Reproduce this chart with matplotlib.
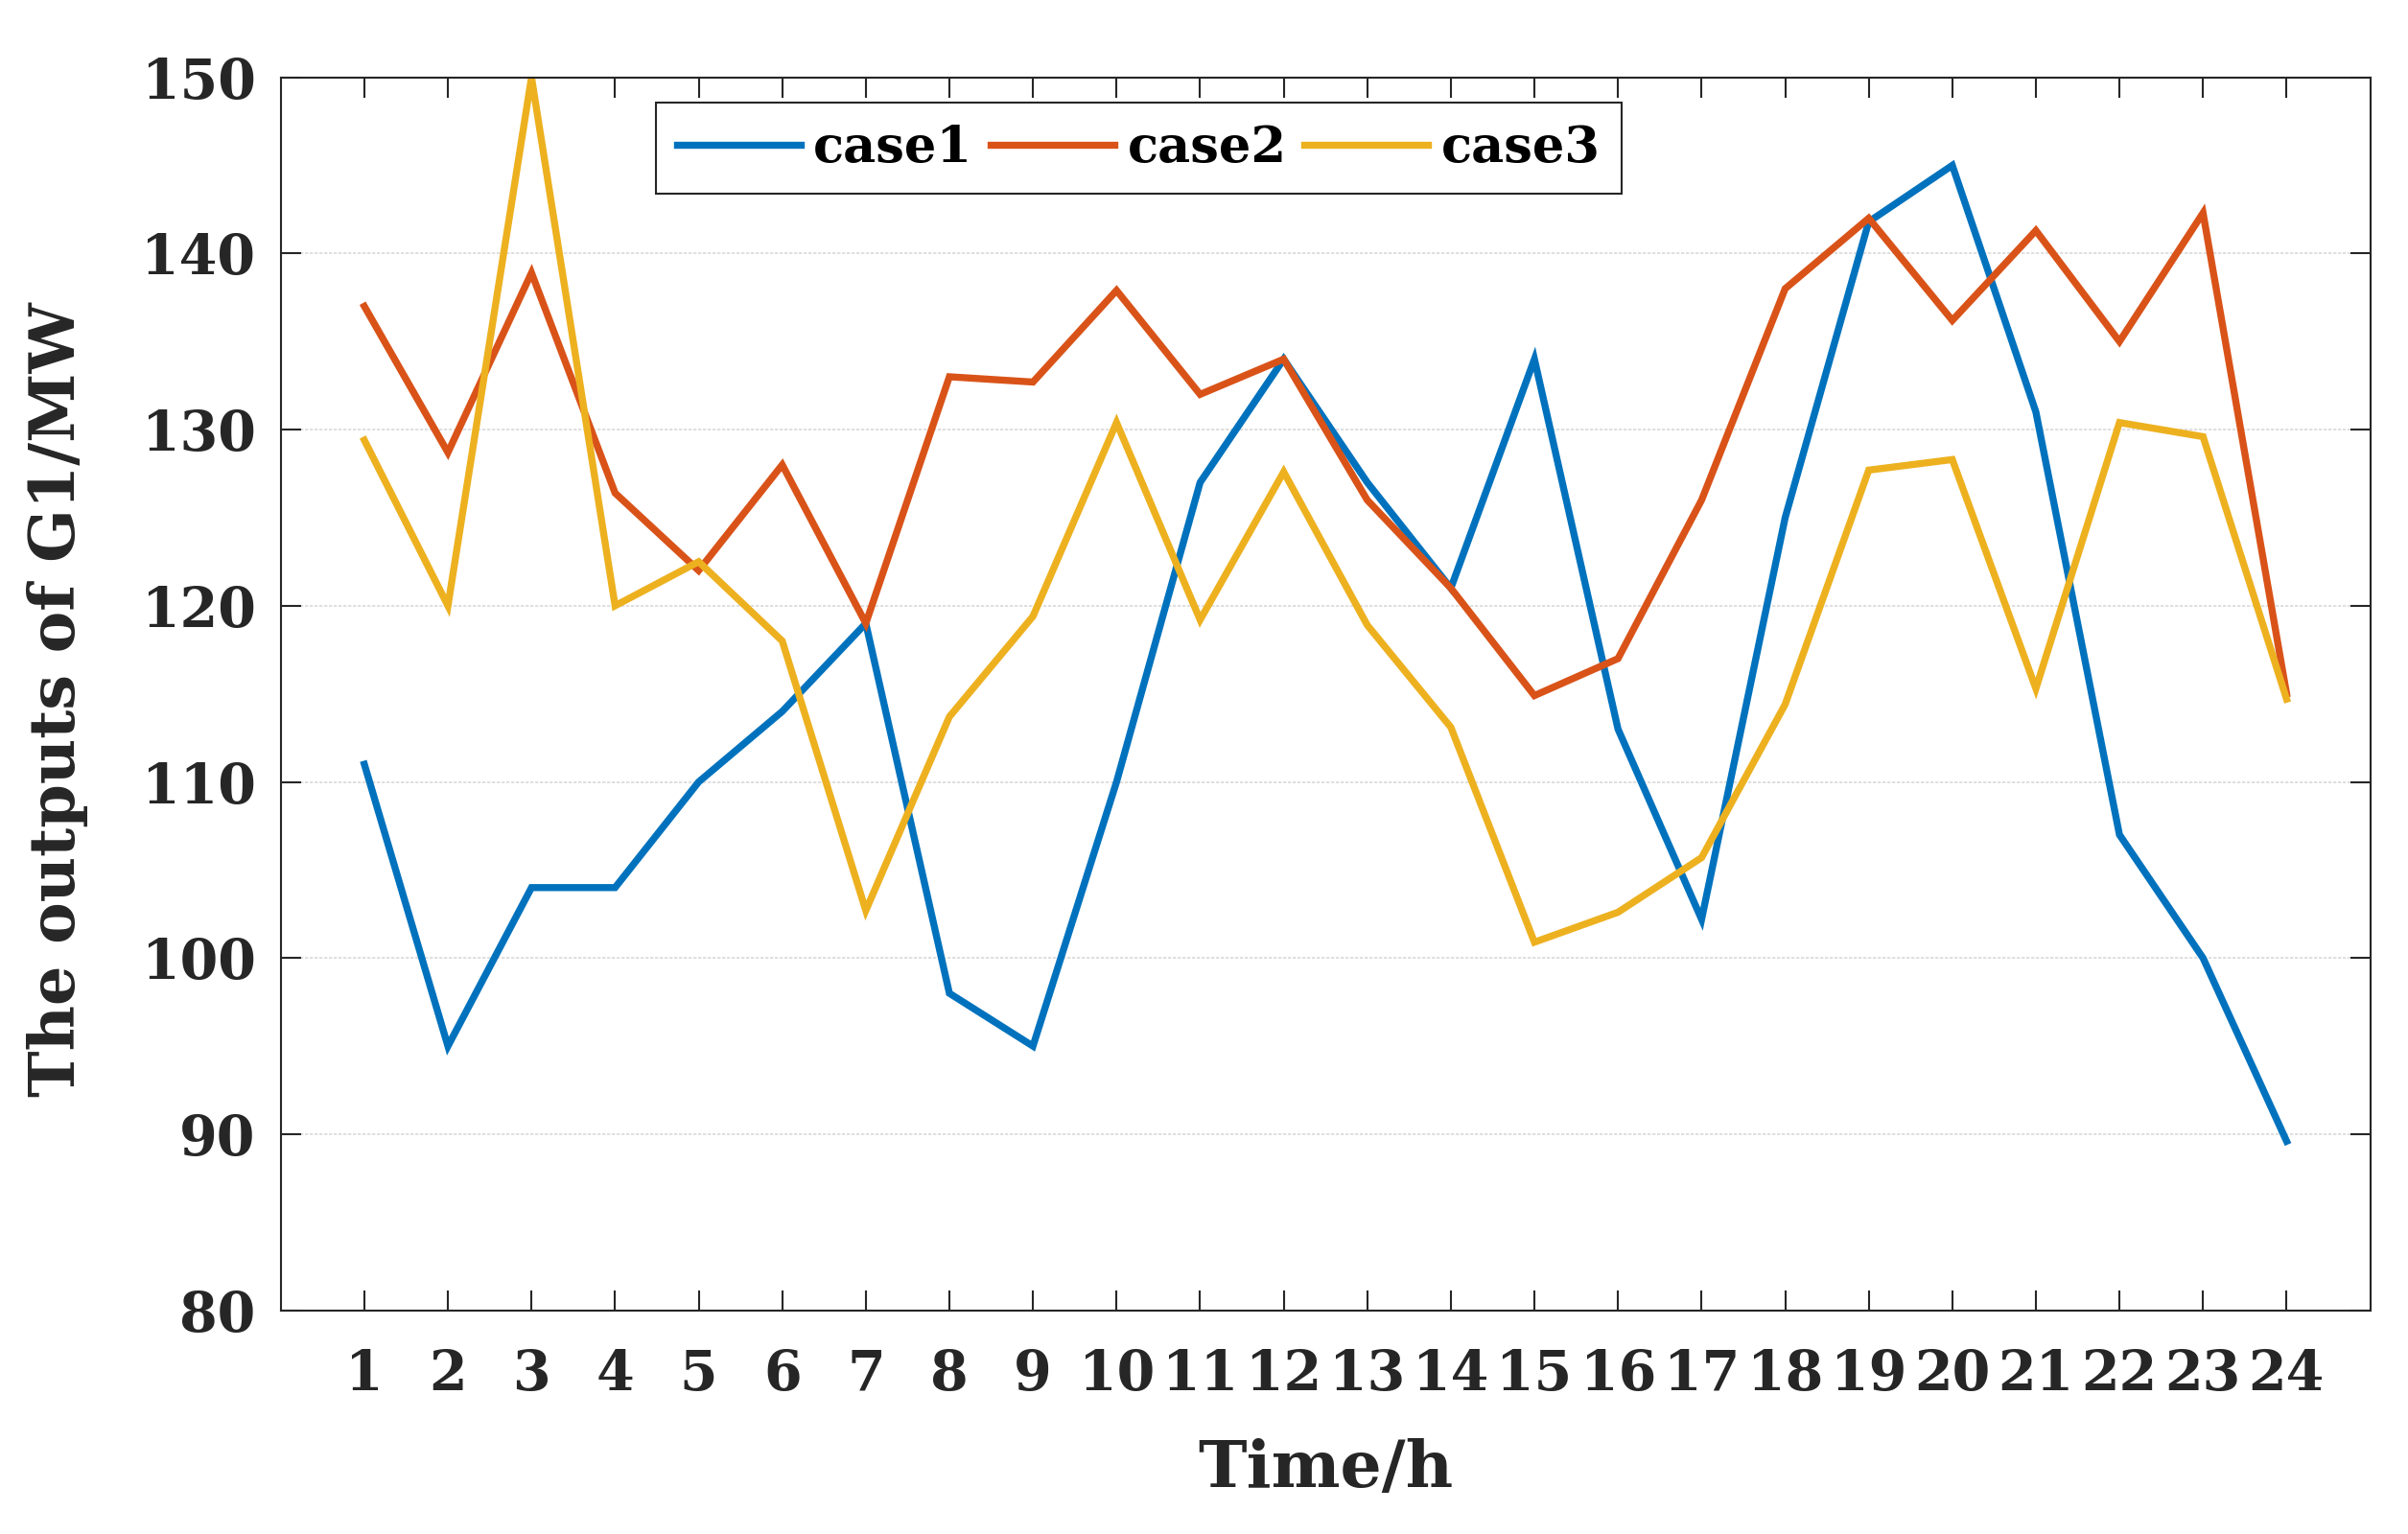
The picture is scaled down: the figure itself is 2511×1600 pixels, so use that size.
import matplotlib
matplotlib.use("Agg")
import matplotlib.pyplot as plt

hours = list(range(1, 25))
case1 = [111, 95, 104, 104, 110, 114, 119, 98, 95, 110, 127, 134,
         127, 121, 134, 113, 102.2, 125, 141.8, 145, 131, 107, 100, 89.6]
case2 = [137, 128.7, 138.9, 126.4, 122, 128, 119, 133, 132.7, 137.9, 132, 134,
         126, 121, 114.9, 117, 126, 138, 142, 136.2, 141.3, 135, 142.3, 115]
case3 = [129.4, 120, 150, 120, 122.5, 118, 102.7, 113.7, 119.4, 130.4, 119.2, 127.6,
         118.9, 113.1, 100.9, 102.6, 105.7, 114.4, 127.7, 128.3, 115.3, 130.4, 129.6, 114.7]
series_names = ["case1", "case2", "case3"]
colors = ["#0072BD", "#D95319", "#EDB120"]
yticks = [80, 90, 100, 110, 120, 130, 140, 150]

TXT = "#262626"
plt.rcParams["font.family"] = ["DejaVu Serif"]
plt.rcParams["font.weight"] = "bold"

fig = plt.figure(figsize=(25.11, 16), dpi=100)
ax = fig.add_axes([0.1166, 0.1458, 0.8677, 0.8038])

for vals, name, c in zip([case1, case2, case3], series_names, colors):
    ax.plot(hours, vals, color=c, lw=5.3, label=name, solid_joinstyle="miter")

ax.set_xlim(0, 25)
ax.set_ylim(80, 150)
ax.set_xticks(hours)
ax.set_xticklabels([str(h) for h in hours])
ax.set_yticks(yticks)
ax.grid(axis="y", color="#d9d9d9", lw=1.2, linestyle=(0, (2, 1)))
ax.set_axisbelow(True)

ax.tick_params(axis="both", which="major", direction="in", length=15, width=1.5,
               color=TXT, labelcolor=TXT, labelsize=41, top=True, right=True)
ax.tick_params(axis="x", pad=28)
ax.tick_params(axis="y", pad=19)
for lab in ax.get_xticklabels() + ax.get_yticklabels():
    lab.set_fontweight("bold")
for s in ax.spines.values():
    s.set_color(TXT)
    s.set_linewidth(1.5)

ax.set_xlabel("Time/h", fontsize=49, fontweight="bold", color=TXT)
ax.xaxis.set_label_coords(0.5, -0.104)
ax.set_ylabel("The outputs of G1/MW", fontsize=47, fontweight="bold", color=TXT)
ax.yaxis.set_label_coords(-0.092, 0.495)

leg = ax.legend(loc="upper left", bbox_to_anchor=(0.1794, 0.9795), ncol=3,
                fontsize=38, frameon=True, fancybox=False, framealpha=1,
                edgecolor=TXT, handlelength=2.45, handletextpad=0.25,
                columnspacing=0.35, borderpad=0.42, borderaxespad=0)
leg.get_frame().set_linewidth(1.5)
for t in leg.get_texts():
    t.set_fontweight("bold")
    t.set_color("black")

fig.savefig("out.png", dpi=100, facecolor="white")
